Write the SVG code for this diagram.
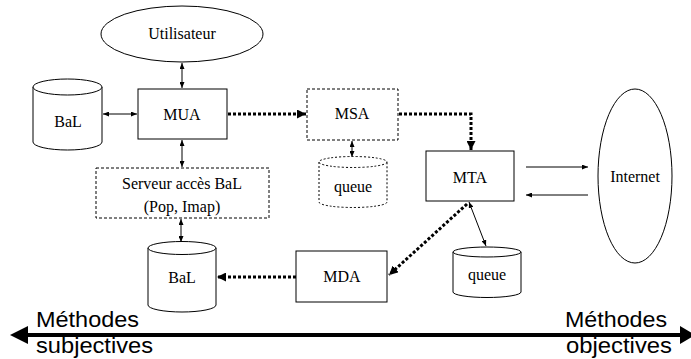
<svg xmlns="http://www.w3.org/2000/svg" width="691" height="359" viewBox="0 0 691 359">
<defs>
<style>
.n{fill:#fff;stroke:#000;stroke-width:1}
.d{fill:#fff;stroke:#000;stroke-width:1;stroke-dasharray:3 2}
.q{fill:#fff;stroke:#000;stroke-width:1;stroke-dasharray:2 2}
.t{font-family:"Liberation Serif","Times New Roman",serif;font-size:16px;fill:#000;text-anchor:middle}
.s{fill:none;stroke:#000;stroke-width:1}
.dot{fill:none;stroke:#000;stroke-width:3;stroke-dasharray:3 2}
.big{font-family:"Liberation Sans",Arial,sans-serif;font-size:22px;fill:#000}
</style>
<marker id="a" viewBox="0 0 6 5" refX="6" refY="2.5" markerWidth="6" markerHeight="5" markerUnits="userSpaceOnUse" orient="auto-start-reverse"><path d="M0,0L6,2.5L0,5z" fill="#000"/></marker>
<marker id="b" viewBox="0 0 9 9" refX="9" refY="4.5" markerWidth="9" markerHeight="9" markerUnits="userSpaceOnUse" orient="auto"><path d="M0,0L9,4.5L0,9z" fill="#000"/></marker>
</defs>
<rect width="691" height="359" fill="#fff"/>

<g id="connectors">
<line class="s" x1="182" y1="63" x2="182" y2="88" marker-start="url(#a)" marker-end="url(#a)"/>
<line class="s" x1="103" y1="114" x2="137" y2="114" marker-start="url(#a)" marker-end="url(#a)"/>
<line class="s" x1="182" y1="140" x2="182" y2="167" marker-start="url(#a)" marker-end="url(#a)"/>
<line class="s" x1="181" y1="219" x2="181" y2="242" marker-start="url(#a)" marker-end="url(#a)"/>
<line class="s" x1="352" y1="141" x2="352" y2="157" marker-start="url(#a)" marker-end="url(#a)"/>
<line class="s" x1="469" y1="202" x2="486" y2="246" marker-start="url(#a)" marker-end="url(#a)"/>
<line class="s" x1="526" y1="167" x2="588" y2="167" marker-end="url(#a)"/>
<line class="s" x1="588" y1="195" x2="526" y2="195" marker-end="url(#a)"/>
<line class="dot" x1="228" y1="114" x2="306" y2="114" marker-end="url(#b)"/>
<polyline class="dot" points="399,114 471,114 471,150" marker-end="url(#b)"/>
<line class="dot" x1="467" y1="204" x2="389" y2="275" marker-end="url(#b)"/>
<line class="dot" x1="296" y1="277" x2="217" y2="277" marker-end="url(#b)"/>
<line x1="26" y1="335" x2="681" y2="335" stroke="#000" stroke-width="4"/>
<path d="M10,335L28,326L28,344z" fill="#000"/>
<path d="M680,326L695,335L680,344z" fill="#000"/>
</g>

<g id="utilisateur">
<ellipse class="n" cx="182" cy="34" rx="81" ry="28"/>
<text class="t" x="182" y="39">Utilisateur</text>
</g>

<g id="bal1">
<path class="n" d="M33,87 L33,142 A34.5,8 0 0 0 102,142 L102,87"/>
<ellipse class="n" cx="67.5" cy="87" rx="34.5" ry="8"/>
<text class="t" x="68" y="127">BaL</text>
</g>

<g id="mua">
<rect class="n" x="138" y="89" width="89" height="50"/>
<text class="t" x="182" y="120">MUA</text>
</g>

<g id="msa">
<rect class="d" x="307" y="89" width="91" height="51"/>
<text class="t" x="352" y="119">MSA</text>
</g>

<g id="queue1">
<path class="q" d="M319,162 L319,202 A34,5.5 0 0 0 387,202 L387,162"/>
<ellipse class="q" cx="353" cy="162" rx="34" ry="5.5"/>
<text class="t" x="353" y="192">queue</text>
</g>

<g id="serveur">
<rect class="d" x="96" y="168" width="173" height="50"/>
<text class="t" x="182" y="189">Serveur accès BaL</text>
<text class="t" x="182" y="212">(Pop, Imap)</text>
</g>

<g id="mta">
<rect class="n" x="426" y="151" width="88" height="50"/>
<text class="t" x="470" y="183">MTA</text>
</g>

<g id="internet">
<ellipse class="n" cx="635" cy="176" rx="37" ry="87"/>
<text class="t" x="635" y="182">Internet</text>
</g>

<g id="bal2">
<path class="n" d="M148,248 L148,305 A34,7 0 0 0 216,305 L216,248"/>
<ellipse class="n" cx="182" cy="248" rx="34" ry="6.5"/>
<text class="t" x="182" y="283">BaL</text>
</g>

<g id="mda">
<rect class="n" x="296" y="251" width="91" height="51"/>
<text class="t" x="342" y="282">MDA</text>
</g>

<g id="queue2">
<path class="n" d="M453,252 L453,292 A34,5.5 0 0 0 521,292 L521,252"/>
<ellipse class="n" cx="487" cy="252" rx="34" ry="5"/>
<text class="t" x="487" y="280">queue</text>
</g>

<g id="axis-labels">
<text class="big" x="36" y="327" textLength="103" lengthAdjust="spacingAndGlyphs">Méthodes</text>
<text class="big" x="36" y="353" textLength="117" lengthAdjust="spacingAndGlyphs">subjectives</text>
<text class="big" x="667" y="327" text-anchor="end" textLength="102" lengthAdjust="spacingAndGlyphs">Méthodes</text>
<text class="big" x="672" y="353" text-anchor="end" textLength="106" lengthAdjust="spacingAndGlyphs">objectives</text>
</g>
</svg>
